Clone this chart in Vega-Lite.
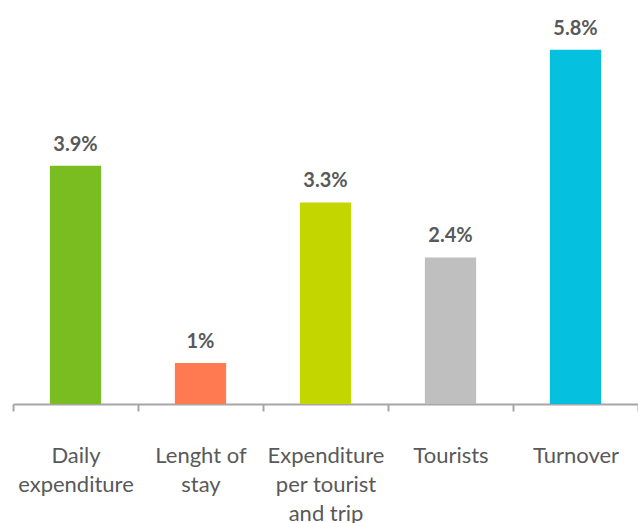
{
  "$schema": "https://vega.github.io/schema/vega-lite/v6.json",
  "autosize": "none",
  "width": 625,
  "height": 391,
  "padding": {"left": 13, "top": 13, "right": 0, "bottom": 119},
  "background": "white",
  "config": {"view": {"stroke": null}, "font": "Lato"},
  "data": {
    "values": [
      {"category": "Daily|expenditure", "value": 3.9, "label": "3.9%"},
      {"category": "Lenght of|stay", "value": 0.67, "label": "1%"},
      {"category": "Expenditure|per tourist|and trip", "value": 3.3, "label": "3.3%"},
      {"category": "Tourists", "value": 2.4, "label": "2.4%"},
      {"category": "Turnover", "value": 5.8, "label": "5.8%"}
    ]
  },
  "encoding": {
    "x": {
      "field": "category",
      "type": "nominal",
      "sort": null,
      "scale": {"paddingInner": 0, "paddingOuter": 0},
      "axis": {
        "title": null,
        "labelAngle": 0,
        "labelExpr": "isString(datum.value) ? split(datum.value, '|') : ''",
        "labelFont": "Lato",
        "labelFontSize": 22,
        "labelColor": "#595959",
        "labelLineHeight": 29,
        "labelBaseline": "alphabetic",
        "labelPadding": 51,
        "tickBand": "extent",
        "tickSize": 7,
        "tickWidth": 2,
        "tickColor": "#A6A6A6",
        "domainColor": "#A6A6A6",
        "domainWidth": 2
      }
    },
    "y": {
      "field": "value",
      "type": "quantitative",
      "scale": {"domain": [0, 6.4], "nice": false},
      "axis": null
    }
  },
  "layer": [
    {
      "mark": {"type": "bar", "width": {"band": 0.41}},
      "encoding": {
        "color": {
          "field": "category",
          "type": "nominal",
          "sort": null,
          "scale": {"range": ["#7ABD21", "#FF7A50", "#C4D600", "#BFBFBF", "#05C0DE"]},
          "legend": null
        }
      }
    },
    {
      "mark": {"type": "text", "baseline": "alphabetic", "dy": -15, "fontWeight": "bold", "fontSize": 20, "color": "#595959", "font": "Lato"},
      "encoding": {"text": {"field": "label"}}
    }
  ]
}
